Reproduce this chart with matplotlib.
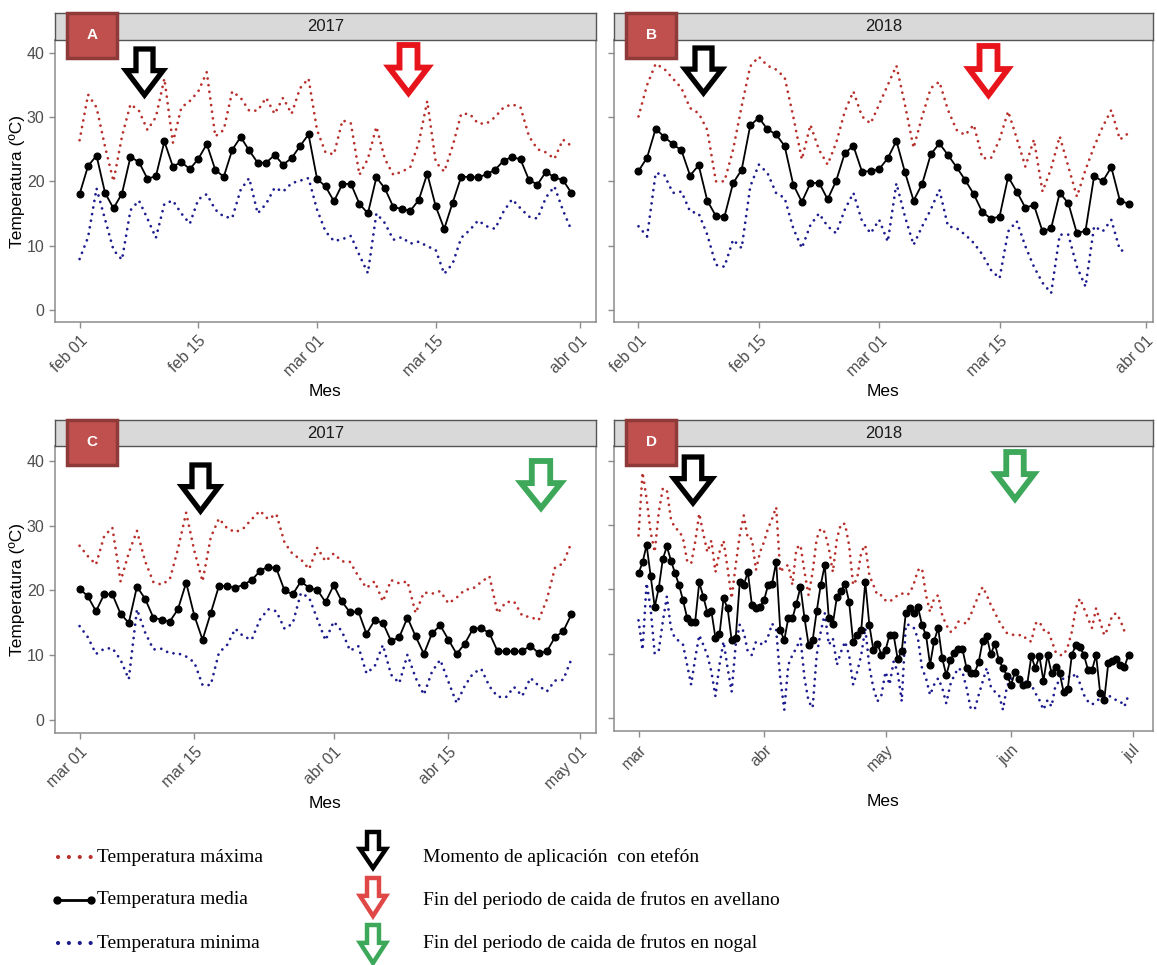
import numpy as np
import pandas as pd
import matplotlib
matplotlib.use("Agg")
import matplotlib.pyplot as plt
from matplotlib.patches import Polygon, Rectangle

plt.rcParams['font.family'] = ['Liberation Sans', 'DejaVu Sans']

# ---------------- data (daily temperatures, ºC) ----------------
# A: 2017, feb 01 - mar 31
tmax_a = [26.4, 33.5, 31.5, 25.4, 20.0, 27.0, 32.0, 31.0, 28.0, 30.0,
          36.0, 26.0, 31.5, 32.5, 34.0, 37.0, 27.0, 28.0, 34.0, 33.0,
          31.0, 31.0, 33.0, 30.5, 33.0, 30.5, 34.5, 36.0, 28.0, 24.5,
          24.2, 29.5, 29.0, 21.0, 23.5, 28.5, 23.5, 21.0, 21.5, 22.2,
          26.0, 32.5, 23.0, 21.5, 25.5, 30.5, 30.5, 29.0, 29.0, 30.0,
          31.5, 32.0, 31.5, 27.0, 25.0, 24.5, 23.5, 26.5, 25.5]
tmed_a = [18.0, 22.4, 24.0, 18.2, 15.8, 18.1, 23.8, 23.0, 20.4, 20.8,
          26.2, 22.3, 23.0, 21.9, 23.5, 25.8, 21.8, 20.7, 24.9, 26.9,
          24.8, 22.9, 22.9, 24.1, 22.6, 23.6, 25.5, 27.3, 20.4, 19.2,
          16.9, 19.6, 19.6, 16.5, 15.0, 20.6, 18.9, 16.0, 15.7, 15.4,
          17.1, 21.2, 16.1, 12.6, 16.7, 20.7, 20.7, 20.6, 21.1, 21.8,
          23.2, 23.8, 23.4, 20.2, 19.5, 21.5, 20.6, 20.2, 18.2]
tmin_a = [7.9, 11.3, 18.9, 14.1, 9.3, 7.8, 15.5, 17.0, 14.2, 11.2,
          16.5, 17.0, 15.0, 13.4, 17.2, 18.0, 15.6, 14.5, 14.3, 18.7,
          20.5, 15.0, 16.5, 19.0, 18.4, 19.7, 20.1, 20.5, 15.6, 12.2,
          10.7, 11.0, 11.5, 8.5, 5.7, 15.0, 13.5, 10.9, 11.3, 10.3,
          10.6, 9.9, 9.3, 5.6, 7.2, 11.2, 12.4, 13.9, 13.0, 12.6,
          15.3, 17.2, 15.8, 14.5, 14.2, 17.5, 19.2, 15.5, 12.4]

# B: 2018, feb 01 - mar 30
tmax_b = [30.1, 35.0, 38.3, 37.5, 36.0, 34.5, 31.4, 30.6, 28.0, 20.0,
          20.0, 24.9, 31.7, 37.9, 39.4, 38.0, 37.4, 36.2, 30.1, 23.4,
          28.8, 24.9, 22.6, 26.0, 30.9, 34.0, 30.1, 29.0, 32.0, 35.0,
          38.0, 31.9, 25.2, 30.1, 34.5, 35.5, 31.1, 28.0, 27.2, 28.8,
          23.6, 23.6, 26.5, 30.9, 26.7, 22.3, 26.5, 18.4, 22.0, 27.0,
          22.3, 17.6, 21.8, 25.4, 28.5, 31.1, 26.5, 27.5]
tmed_b = [21.6, 23.7, 28.2, 26.9, 25.8, 24.8, 20.9, 22.5, 17.0, 14.6,
          14.5, 19.7, 21.8, 28.7, 29.9, 28.1, 27.3, 25.5, 19.5, 16.8,
          19.7, 19.8, 17.2, 20.1, 24.4, 25.5, 21.5, 21.6, 21.9, 23.6,
          26.3, 21.4, 17.0, 19.6, 24.2, 25.9, 24.1, 22.2, 20.2, 18.0,
          15.2, 14.2, 14.5, 20.7, 18.4, 15.9, 16.3, 12.2, 12.7, 18.2,
          16.6, 11.9, 12.3, 20.8, 20.0, 22.2, 17.0, 16.5]
tmin_b = [13.0, 11.4, 21.3, 21.0, 18.2, 18.4, 15.3, 15.0, 11.7, 7.0,
          6.7, 10.9, 9.6, 19.2, 22.6, 21.3, 18.2, 17.4, 12.7, 9.6,
          13.2, 15.0, 13.0, 11.9, 15.6, 18.2, 13.8, 11.9, 14.0, 10.6,
          19.7, 14.5, 10.1, 13.0, 15.6, 18.7, 13.0, 12.7, 11.7, 10.4,
          8.6, 6.2, 4.9, 12.2, 13.8, 9.9, 6.7, 4.2, 2.6, 11.7,
          11.7, 6.7, 3.6, 13.0, 12.2, 14.0, 9.3, 9.0]

# C: 2017, mar 01 - abr 30
tmax_c = [26.9, 25.3, 24.0, 28.4, 29.7, 21.4, 25.8, 29.2, 24.5, 21.3,
          20.9, 21.7, 26.4, 32.0, 26.1, 21.4, 28.2, 31.1, 29.6, 29.0,
          29.6, 31.0, 32.3, 31.0, 31.8, 27.4, 25.6, 24.8, 23.3, 26.6,
          24.5, 25.7, 24.5, 24.4, 22.2, 20.4, 21.4, 18.3, 21.6, 21.1,
          21.4, 16.5, 19.7, 19.5, 19.9, 18.0, 18.9, 20.1, 20.3, 21.3,
          22.2, 16.5, 18.2, 18.3, 16.1, 15.9, 15.4, 18.6, 23.5, 24.2,
          27.4]
tmed_c = [20.3, 19.1, 16.8, 19.4, 19.4, 16.4, 15.0, 20.6, 18.7, 15.8,
          15.5, 15.2, 17.1, 21.2, 16.1, 12.4, 16.5, 20.7, 20.7, 20.4,
          20.9, 21.6, 23.0, 23.7, 23.4, 20.0, 19.4, 21.4, 20.4, 20.1,
          18.2, 20.8, 18.3, 16.6, 16.8, 13.3, 15.4, 15.0, 12.2, 12.8,
          15.8, 12.9, 10.2, 13.4, 14.6, 12.4, 10.2, 11.8, 14.1, 14.2,
          13.4, 10.6, 10.6, 10.6, 10.6, 11.5, 10.3, 10.6, 12.8, 13.7,
          16.3]
tmin_c = [14.5, 12.8, 10.2, 11.0, 11.1, 9.3, 6.3, 17.1, 13.5, 10.9,
          11.0, 10.3, 10.3, 9.8, 8.9, 5.4, 5.4, 10.4, 11.6, 14.1,
          12.9, 12.4, 15.5, 17.1, 16.8, 14.1, 14.9, 19.6, 18.9, 15.6,
          12.3, 15.2, 13.7, 10.7, 11.4, 7.2, 8.3, 11.6, 7.0, 5.7,
          10.1, 6.5, 3.9, 7.5, 9.3, 5.9, 2.6, 5.3, 7.2, 7.9,
          5.2, 3.6, 3.5, 5.1, 3.7, 6.5, 5.3, 4.4, 6.1, 6.2,
          9.4]

# D: 2018, mar 01 - jun 30
tmax_d = [28.4, 38.2, 34.1, 28.9, 25.8, 32.0, 35.7, 35.5, 31.0, 29.5,
          29.2, 27.9, 24.5, 24.0, 27.4, 31.8, 28.7, 25.8, 27.6, 22.7,
          25.8, 27.6, 23.3, 18.6, 23.8, 28.4, 31.5, 27.9, 27.9, 23.0,
          25.8, 27.4, 29.5, 31.0, 32.8, 22.7, 23.5, 23.8, 20.7, 26.4,
          26.9, 22.7, 19.1, 22.7, 27.9, 29.5, 28.9, 26.4, 22.7, 27.9,
          30.2, 30.2, 26.9, 20.7, 21.7, 25.8, 26.9, 22.2, 20.7, 19.1,
          19.1, 18.3, 18.1, 18.6, 19.1, 19.4, 19.1, 19.4, 20.9, 23.0,
          23.3, 19.1, 16.5, 18.6, 19.1, 16.0, 14.5, 13.4, 13.7, 15.0,
          14.9, 14.7, 16.0, 17.6, 19.1, 20.4, 19.1, 17.6, 16.4, 15.1,
          14.1, 13.2, 13.0, 12.9, 12.9, 12.9, 12.1, 11.9, 14.7, 15.0,
          13.7, 13.7, 12.1, 10.3, 9.8, 9.8, 11.1, 13.4, 17.1, 18.6,
          17.1, 15.5, 14.0, 17.1, 15.0, 12.9, 14.0, 16.0, 16.3, 15.2,
          13.5, 13.2]
tmed_d = [22.5, 24.2, 26.9, 22.1, 17.3, 20.2, 24.7, 26.7, 24.5, 22.6,
          20.7, 18.3, 15.6, 14.9, 15.0, 21.1, 18.9, 16.4, 16.6, 12.5,
          13.0, 18.6, 17.1, 12.1, 12.4, 21.1, 20.7, 22.7, 17.6, 17.1,
          17.3, 18.3, 20.7, 20.9, 24.3, 13.7, 12.1, 15.6, 15.5, 17.8,
          20.4, 15.5, 11.4, 12.1, 16.6, 20.7, 23.8, 15.5, 14.7, 18.9,
          19.7, 20.9, 18.1, 11.9, 12.9, 13.7, 21.2, 14.5, 10.6, 11.6,
          9.8, 10.6, 12.9, 12.9, 9.2, 10.4, 16.3, 17.1, 16.3, 17.3,
          14.5, 12.9, 8.3, 12.0, 14.0, 9.3, 6.7, 9.0, 10.1, 10.7,
          10.7, 7.8, 7.0, 7.0, 8.7, 12.0, 12.7, 9.9, 11.6, 9.0,
          7.8, 6.6, 5.2, 7.2, 6.1, 5.2, 5.3, 9.6, 7.8, 9.6,
          5.8, 9.8, 7.0, 7.9, 7.0, 4.0, 4.5, 9.8, 11.4, 11.1,
          9.8, 7.5, 7.5, 9.8, 3.9, 2.8, 8.5, 8.9, 9.2, 8.2,
          8.0, 9.8]
tmin_d = [15.2, 10.6, 21.0, 17.0, 10.0, 10.5, 15.0, 18.9, 14.0, 12.4,
          12.0, 11.4, 8.3, 5.2, 9.3, 12.9, 11.4, 9.8, 7.2, 3.4,
          8.3, 11.9, 7.8, 4.1, 11.4, 14.5, 13.4, 10.3, 9.8, 11.9,
          11.6, 11.4, 12.7, 14.7, 13.7, 6.2, 1.3, 8.3, 9.8, 10.9,
          12.4, 6.2, 2.6, 1.6, 9.8, 13.4, 16.3, 11.4, 12.4, 8.3,
          10.3, 11.9, 9.8, 5.2, 7.2, 9.8, 14.0, 8.0, 4.7, 2.6,
          3.6, 7.2, 5.2, 8.8, 7.2, 2.6, 14.5, 14.5, 14.0, 12.4,
          7.8, 6.2, 3.6, 5.2, 6.2, 4.7, 2.3, 5.2, 6.7, 7.8,
          7.2, 4.7, 1.6, 1.3, 3.6, 5.7, 7.8, 4.9, 4.1, 3.6,
          1.3, 5.0, 6.0, 7.0, 6.0, 5.0, 6.0, 5.2, 3.9, 2.8,
          1.3, 2.8, 1.8, 5.2, 5.7, 6.2, 6.5, 6.2, 7.0, 5.4,
          3.6, 2.6, 2.1, 2.6, 3.1, 3.4, 3.6, 3.1, 2.8, 2.6,
          1.8, 3.6]

start_a, start_b, start_c, start_d = "2017-02-01", "2018-02-01", "2017-03-01", "2018-03-01"

ticks_ab = ["02-01", "02-15", "03-01", "03-15", "04-01"]
labels_ab = ["feb 01", "feb 15", "mar 01", "mar 15", "abr 01"]
ticks_c = ["03-01", "03-15", "04-01", "04-15", "05-01"]
labels_c = ["mar 01", "mar 15", "abr 01", "abr 15", "may 01"]
ticks_d = ["03-01", "04-01", "05-01", "06-01", "07-01"]
labels_d = ["mar", "abr", "may", "jun", "jul"]

# ---------------- figure ----------------
W, H = 1157, 965
fig = plt.figure(figsize=(W / 100, H / 100), dpi=100)

RED = "#B8302C"
BLUE = "#1C1C8E"
GREY_TXT = "#4D4D4D"
BORDER = "#8C8C8C"
DOTS = (0, (0.01, 2.4))


def fx(x):
    return x / W


def fy(y):
    return 1 - y / H


def add_px_axes(left, top, right, bottom):
    return fig.add_axes([fx(left), fy(bottom), (right - left) / W, (bottom - top) / H])


def draw_arrow(left, top, w, h, color, lw):
    pts = [(0.27, 0), (0.73, 0), (0.73, 0.47), (1.0, 0.47), (0.5, 1.0), (0.0, 0.47), (0.27, 0.47)]
    xy = [(fx(left + px * w), fy(top + py * h)) for px, py in pts]
    fig.add_artist(Polygon(xy, closed=True, transform=fig.transFigure, facecolor="white",
                           edgecolor=color, linewidth=lw, joinstyle="miter"))


def panel(box, strip_top, year, start, tmax, tmed, tmin, ticks, labels, ylim, show_y, letter):
    left, top, right, bottom = box
    ax = add_px_axes(left, top, right, bottom)
    dates = pd.date_range(start, periods=len(tmed), freq="D")
    ax.plot(dates, tmax, color=RED, lw=2.0, ls=DOTS, dash_capstyle="round")
    ax.plot(dates, tmin, color=BLUE, lw=2.0, ls=DOTS, dash_capstyle="round")
    ax.plot(dates, tmed, color="black", lw=1.3, marker="o", ms=4.8)

    n = len(tmed) - 1
    pad = 0.05 * n
    ax.set_xlim(dates[0] - pd.Timedelta(days=pad), dates[-1] + pd.Timedelta(days=pad))
    ax.set_ylim(*ylim)
    yr = start[:4]
    ax.set_xticks([pd.Timestamp(f"{yr}-{t}") for t in ticks])
    ax.set_xticklabels(labels, rotation=45, ha="right", va="top", rotation_mode="anchor")
    ax.set_yticks([0, 10, 20, 30, 40])
    if not show_y:
        ax.set_yticklabels([])
    ax.tick_params(colors=BORDER, labelcolor=GREY_TXT, labelsize=11.5, length=4, width=1)
    ax.tick_params(axis="x", pad=4)
    for s in ax.spines.values():
        s.set_color(BORDER)
        s.set_linewidth(1.1)
    ax.set_xlabel("Mes", fontsize=12.5)
    ax.xaxis.set_label_coords(0.5, -70 / (bottom - top))
    ax.xaxis.label.set_va("center")
    if show_y:
        ax.set_ylabel("Temperatura (ºC)", fontsize=12.5)
        ax.yaxis.set_label_coords(-(left - 17) / (right - left), 0.5)
        ax.yaxis.label.set_va("center")

    # facet strip
    sax = add_px_axes(left, strip_top, right, top)
    sax.set_facecolor("#D9D9D9")
    sax.set_xticks([])
    sax.set_yticks([])
    for s in sax.spines.values():
        s.set_color("#555555")
        s.set_linewidth(1.0)
    sax.text(0.5, 0.5, year, ha="center", va="center", fontsize=12, color="#1A1A1A",
             transform=sax.transAxes)

    # panel letter
    fig.add_artist(Rectangle((fx(left + 12), fy(strip_top + 45)), 50 / W, 45 / H,
                             transform=fig.transFigure, facecolor="#C0504D",
                             edgecolor="#8E3A38", linewidth=2.5, zorder=5))
    fig.text(fx(left + 37), fy(strip_top + 22), letter, ha="center", va="center",
             color="white", fontsize=11, fontweight="bold", zorder=6)
    return ax


ylim_top = (-1.9, 42.0)
ylim_bot = (-2.0, 42.3)

panel((55, 40, 596, 322), 13, "2017", start_a, tmax_a, tmed_a, tmin_a, ticks_ab, labels_ab, ylim_top, True, "A")
panel((614, 40, 1153, 322), 13, "2018", start_b, tmax_b, tmed_b, tmin_b, ticks_ab, labels_ab, ylim_top, False, "B")
panel((55, 446, 596, 733), 420, "2017", start_c, tmax_c, tmed_c, tmin_c, ticks_c, labels_c, ylim_bot, True, "C")
panel((614, 446, 1153, 731), 420, "2018", start_d, tmax_d, tmed_d, tmin_d, ticks_d, labels_d, ylim_bot, False, "D")

# event arrows
ARROW_RED = "#E8141B"
ARROW_GREEN = "#3DA85A"
draw_arrow(126, 49, 37, 46, "black", 3.8)
draw_arrow(389, 45, 39, 48, ARROW_RED, 4.2)
draw_arrow(685, 48, 37, 45, "black", 3.8)
draw_arrow(969, 46, 39, 49, ARROW_RED, 4.2)
draw_arrow(182, 465, 37, 46, "black", 3.8)
draw_arrow(521, 461, 40, 47, ARROW_GREEN, 4.2)
draw_arrow(674, 457, 38, 46, "black", 3.8)
draw_arrow(996, 452, 38, 47, ARROW_GREEN, 4.2)

# ---------------- legend ----------------
serif = ["Liberation Serif", "DejaVu Serif"]
leg_y = [857, 900, 943]
fig.add_artist(plt.Line2D([fx(58), fx(91)], [fy(leg_y[0])] * 2, transform=fig.transFigure,
                          color=RED, lw=3.0, ls=(0, (0.01, 2.6)), dash_capstyle="round"))
fig.add_artist(plt.Line2D([fx(57), fx(91)], [fy(leg_y[1])] * 2, transform=fig.transFigure,
                          color="black", lw=2.0, marker="o", ms=5, markevery=[0, 1]))
fig.add_artist(plt.Line2D([fx(58), fx(91)], [fy(leg_y[2])] * 2, transform=fig.transFigure,
                          color=BLUE, lw=3.0, ls=(0, (0.01, 2.6)), dash_capstyle="round"))
for y, t in zip(leg_y, ["Temperatura máxima", "Temperatura media", "Temperatura minima"]):
    fig.text(fx(97), fy(y), t, ha="left", va="center", fontsize=14, family=serif)

draw_arrow(360, 832, 26, 36, "black", 3.2)
draw_arrow(360, 878, 26, 38, "#E04848", 3.2)
draw_arrow(360, 925, 26, 38, "#3DA85A", 3.2)
for y, t in zip(leg_y, ["Momento de aplicación  con etefón",
                        "Fin del periodo de caida de frutos en avellano",
                        "Fin del periodo de caida de frutos en nogal"]):
    fig.text(fx(423), fy(y), t, ha="left", va="center", fontsize=14, family=serif)

fig.savefig("out.png", dpi=100)
